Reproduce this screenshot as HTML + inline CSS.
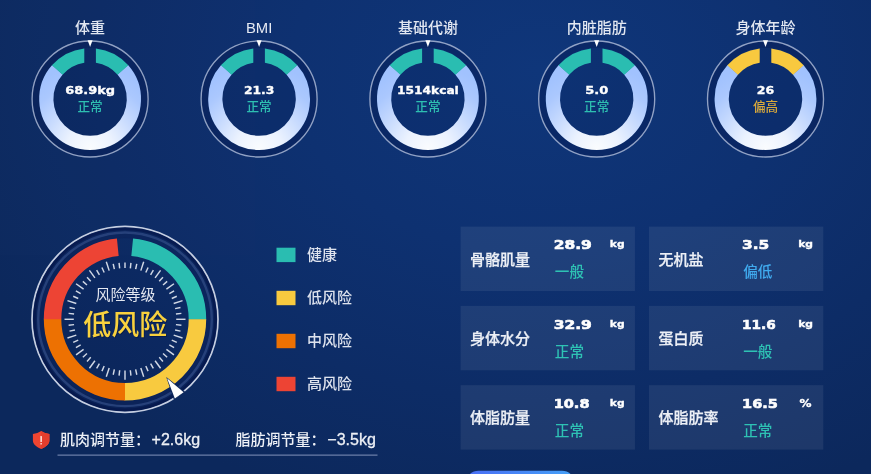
<!DOCTYPE html>
<html lang="zh-CN"><head><meta charset="utf-8"><title>身体成分报告</title>
<style>
html,body{margin:0;padding:0;background:#0f2c64;}
body{width:871px;height:474px;overflow:hidden;}
svg{display:block;will-change:transform;opacity:0.999;}
.c{font-family:"Liberation Sans","Noto Sans CJK SC",sans-serif;}
.n{font-family:"DejaVu Sans","Liberation Sans",sans-serif;font-weight:bold;}
</style></head><body>
<svg width="871" height="474" viewBox="0 0 871 474">
<defs>
<radialGradient id="bg" gradientUnits="userSpaceOnUse" cx="540" cy="70" r="620" gradientTransform="translate(540 70) scale(1 0.74) translate(-540 -70)">
<stop offset="0" stop-color="#10377b"/><stop offset="0.4" stop-color="#0f3272"/><stop offset="0.72" stop-color="#0e2d67"/><stop offset="1" stop-color="#0d295d"/>
</radialGradient>
<radialGradient id="rg" gradientUnits="userSpaceOnUse" cx="0" cy="50" r="84">
<stop offset="0" stop-color="#fbfdff"/><stop offset="0.28" stop-color="#ecf3ff"/><stop offset="0.55" stop-color="#c9dcff"/><stop offset="0.8" stop-color="#acc9ff"/><stop offset="1" stop-color="#a2c3ff"/>
</radialGradient>
<linearGradient id="btn" x1="0" y1="0" x2="1" y2="0"><stop offset="0" stop-color="#4a6ef6"/><stop offset="1" stop-color="#46a2f8"/></linearGradient>
</defs>
<rect width="871" height="474" fill="url(#bg)"/>

<g transform="translate(90.1 99)">
<circle r="54.6" fill="none" stroke="#05174f" stroke-opacity="0.3" stroke-width="6.8"/><circle r="58" fill="#081f5a" fill-opacity="0.16" stroke="#b4c0dc" stroke-opacity="0.8" stroke-width="1.35"/>
<path d="M32.65 -29.19A43.8 43.8 0 1 1 -32.65 -29.19" fill="none" stroke="url(#rg)" stroke-width="14.20"/>
<path d="M5.8 -50.57A50.9 50.9 0 0 1 38.18 -33.66L27.53 -24.27A36.7 36.7 0 0 0 5.8 -36.24Z" fill="#2bbeb2"/>
<path d="M-5.8 -50.57A50.9 50.9 0 0 0 -38.18 -33.66L-27.53 -24.27A36.7 36.7 0 0 1 -5.8 -36.24Z" fill="#2bbeb2"/>
<path d="M-2.5 -58.7L2.5 -58.7L0 -52.1Z" fill="#fff"/>
<text class="c" x="0" y="-65.9" font-size="15" font-weight="500" fill="#e3e8f2" text-anchor="middle">体重</text>
<text class="n" x="0" y="-5.5" font-size="10.9" fill="#fff" stroke="#fff" stroke-width="0.35" text-anchor="middle" textLength="49.8" lengthAdjust="spacingAndGlyphs">68.9kg</text>
<text class="c" x="0" y="12.3" font-size="12.6" font-weight="500" fill="#2fc0b2" text-anchor="middle">正常</text>
</g>
<g transform="translate(259.1 99)">
<circle r="54.6" fill="none" stroke="#05174f" stroke-opacity="0.3" stroke-width="6.8"/><circle r="58" fill="#081f5a" fill-opacity="0.16" stroke="#b4c0dc" stroke-opacity="0.8" stroke-width="1.35"/>
<path d="M32.65 -29.19A43.8 43.8 0 1 1 -32.65 -29.19" fill="none" stroke="url(#rg)" stroke-width="14.20"/>
<path d="M5.8 -50.57A50.9 50.9 0 0 1 38.18 -33.66L27.53 -24.27A36.7 36.7 0 0 0 5.8 -36.24Z" fill="#2bbeb2"/>
<path d="M-5.8 -50.57A50.9 50.9 0 0 0 -38.18 -33.66L-27.53 -24.27A36.7 36.7 0 0 1 -5.8 -36.24Z" fill="#2bbeb2"/>
<path d="M-2.5 -58.7L2.5 -58.7L0 -52.1Z" fill="#fff"/>
<text class="c" x="0" y="-65.9" font-size="15.4" fill="#e6eaf3" text-anchor="middle" textLength="26.4" lengthAdjust="spacingAndGlyphs">BMI</text>
<text class="n" x="0" y="-5.5" font-size="10.9" fill="#fff" stroke="#fff" stroke-width="0.35" text-anchor="middle" textLength="30.4" lengthAdjust="spacingAndGlyphs">21.3</text>
<text class="c" x="0" y="12.3" font-size="12.6" font-weight="500" fill="#2fc0b2" text-anchor="middle">正常</text>
</g>
<g transform="translate(427.9 99)">
<circle r="54.6" fill="none" stroke="#05174f" stroke-opacity="0.3" stroke-width="6.8"/><circle r="58" fill="#081f5a" fill-opacity="0.16" stroke="#b4c0dc" stroke-opacity="0.8" stroke-width="1.35"/>
<path d="M32.65 -29.19A43.8 43.8 0 1 1 -32.65 -29.19" fill="none" stroke="url(#rg)" stroke-width="14.20"/>
<path d="M5.8 -50.57A50.9 50.9 0 0 1 38.18 -33.66L27.53 -24.27A36.7 36.7 0 0 0 5.8 -36.24Z" fill="#2bbeb2"/>
<path d="M-5.8 -50.57A50.9 50.9 0 0 0 -38.18 -33.66L-27.53 -24.27A36.7 36.7 0 0 1 -5.8 -36.24Z" fill="#2bbeb2"/>
<path d="M-2.5 -58.7L2.5 -58.7L0 -52.1Z" fill="#fff"/>
<text class="c" x="0" y="-65.9" font-size="15" font-weight="500" fill="#e3e8f2" text-anchor="middle">基础代谢</text>
<text class="n" x="0" y="-5.5" font-size="10.9" fill="#fff" stroke="#fff" stroke-width="0.35" text-anchor="middle" textLength="61.8" lengthAdjust="spacingAndGlyphs">1514kcal</text>
<text class="c" x="0" y="12.3" font-size="12.6" font-weight="500" fill="#2fc0b2" text-anchor="middle">正常</text>
</g>
<g transform="translate(596.7 99)">
<circle r="54.6" fill="none" stroke="#05174f" stroke-opacity="0.3" stroke-width="6.8"/><circle r="58" fill="#081f5a" fill-opacity="0.16" stroke="#b4c0dc" stroke-opacity="0.8" stroke-width="1.35"/>
<path d="M32.65 -29.19A43.8 43.8 0 1 1 -32.65 -29.19" fill="none" stroke="url(#rg)" stroke-width="14.20"/>
<path d="M5.8 -50.57A50.9 50.9 0 0 1 38.18 -33.66L27.53 -24.27A36.7 36.7 0 0 0 5.8 -36.24Z" fill="#2bbeb2"/>
<path d="M-5.8 -50.57A50.9 50.9 0 0 0 -38.18 -33.66L-27.53 -24.27A36.7 36.7 0 0 1 -5.8 -36.24Z" fill="#2bbeb2"/>
<path d="M-2.5 -58.7L2.5 -58.7L0 -52.1Z" fill="#fff"/>
<text class="c" x="0" y="-65.9" font-size="15" font-weight="500" fill="#e3e8f2" text-anchor="middle">内脏脂肪</text>
<text class="n" x="0" y="-5.5" font-size="10.9" fill="#fff" stroke="#fff" stroke-width="0.35" text-anchor="middle" textLength="23" lengthAdjust="spacingAndGlyphs">5.0</text>
<text class="c" x="0" y="12.3" font-size="12.6" font-weight="500" fill="#2fc0b2" text-anchor="middle">正常</text>
</g>
<g transform="translate(765.5 99)">
<circle r="54.6" fill="none" stroke="#05174f" stroke-opacity="0.3" stroke-width="6.8"/><circle r="58" fill="#081f5a" fill-opacity="0.16" stroke="#b4c0dc" stroke-opacity="0.8" stroke-width="1.35"/>
<path d="M32.65 -29.19A43.8 43.8 0 1 1 -32.65 -29.19" fill="none" stroke="url(#rg)" stroke-width="14.20"/>
<path d="M5.8 -50.57A50.9 50.9 0 0 1 38.18 -33.66L27.53 -24.27A36.7 36.7 0 0 0 5.8 -36.24Z" fill="#f9ca40"/>
<path d="M-5.8 -50.57A50.9 50.9 0 0 0 -38.18 -33.66L-27.53 -24.27A36.7 36.7 0 0 1 -5.8 -36.24Z" fill="#f9ca40"/>
<path d="M-2.5 -58.7L2.5 -58.7L0 -52.1Z" fill="#fff"/>
<text class="c" x="0" y="-65.9" font-size="15" font-weight="500" fill="#e3e8f2" text-anchor="middle">身体年龄</text>
<text class="n" x="0" y="-5.5" font-size="10.9" fill="#fff" stroke="#fff" stroke-width="0.35" text-anchor="middle" textLength="17.4" lengthAdjust="spacingAndGlyphs">26</text>
<text class="c" x="0" y="12.3" font-size="12.6" font-weight="500" fill="#dcab3c" text-anchor="middle">偏高</text>
</g>
<g>
<circle cx="125" cy="319.3" r="82" fill="#0b2258" fill-opacity="0.12"/>
<circle cx="125" cy="319.3" r="87" fill="none" stroke="#0b2258" stroke-opacity="0.6" stroke-width="12"/>
<circle cx="125" cy="319.3" r="93" fill="none" stroke="#c6cfe2" stroke-width="1.7"/>
<circle cx="125" cy="319.3" r="90.6" fill="none" stroke="#041247" stroke-opacity="0.55" stroke-width="2.6"/>
<circle cx="125" cy="319.3" r="86.8" fill="none" stroke="#3a5590" stroke-opacity="0.6" stroke-width="2.4"/>
<path d="M132.20 247.21A72.45 72.45 0 0 1 197.45 319.81" fill="none" stroke="#2bbeb2" stroke-width="17.5"/>
<path d="M197.45 319.30A72.45 72.45 0 0 1 124.49 391.75" fill="none" stroke="#f9cb40" stroke-width="17.5"/>
<path d="M125.00 391.75A72.45 72.45 0 0 1 52.55 318.79" fill="none" stroke="#ee7203" stroke-width="17.5"/>
<path d="M52.55 319.30A72.45 72.45 0 0 1 117.80 247.21" fill="none" stroke="#ee4535" stroke-width="17.5"/>
<line x1="125.00" y1="268.10" x2="125.00" y2="262.60" stroke="#d2d9e6" stroke-width="1.45"/>
<line x1="130.35" y1="268.38" x2="130.93" y2="262.91" stroke="#d2d9e6" stroke-width="1.45"/>
<line x1="135.65" y1="269.22" x2="136.79" y2="263.84" stroke="#d2d9e6" stroke-width="1.45"/>
<line x1="140.82" y1="270.61" x2="143.70" y2="261.76" stroke="#d2d9e6" stroke-width="1.45"/>
<line x1="145.82" y1="272.53" x2="148.06" y2="267.50" stroke="#d2d9e6" stroke-width="1.45"/>
<line x1="150.60" y1="274.96" x2="153.35" y2="270.20" stroke="#d2d9e6" stroke-width="1.45"/>
<line x1="155.09" y1="277.88" x2="160.56" y2="270.35" stroke="#d2d9e6" stroke-width="1.45"/>
<line x1="159.26" y1="281.25" x2="162.94" y2="277.16" stroke="#d2d9e6" stroke-width="1.45"/>
<line x1="163.05" y1="285.04" x2="167.14" y2="281.36" stroke="#d2d9e6" stroke-width="1.45"/>
<line x1="166.42" y1="289.21" x2="173.95" y2="283.74" stroke="#d2d9e6" stroke-width="1.45"/>
<line x1="169.34" y1="293.70" x2="174.10" y2="290.95" stroke="#d2d9e6" stroke-width="1.45"/>
<line x1="171.77" y1="298.48" x2="176.80" y2="296.24" stroke="#d2d9e6" stroke-width="1.45"/>
<line x1="173.69" y1="303.48" x2="182.54" y2="300.60" stroke="#d2d9e6" stroke-width="1.45"/>
<line x1="175.08" y1="308.65" x2="180.46" y2="307.51" stroke="#d2d9e6" stroke-width="1.45"/>
<line x1="175.92" y1="313.95" x2="181.39" y2="313.37" stroke="#d2d9e6" stroke-width="1.45"/>
<line x1="176.20" y1="319.30" x2="185.50" y2="319.30" stroke="#d2d9e6" stroke-width="1.45"/>
<line x1="175.92" y1="324.65" x2="181.39" y2="325.23" stroke="#d2d9e6" stroke-width="1.45"/>
<line x1="175.08" y1="329.95" x2="180.46" y2="331.09" stroke="#d2d9e6" stroke-width="1.45"/>
<line x1="173.69" y1="335.12" x2="182.54" y2="338.00" stroke="#d2d9e6" stroke-width="1.45"/>
<line x1="171.77" y1="340.12" x2="176.80" y2="342.36" stroke="#d2d9e6" stroke-width="1.45"/>
<line x1="169.34" y1="344.90" x2="174.10" y2="347.65" stroke="#d2d9e6" stroke-width="1.45"/>
<line x1="166.42" y1="349.39" x2="173.95" y2="354.86" stroke="#d2d9e6" stroke-width="1.45"/>
<line x1="163.05" y1="353.56" x2="167.14" y2="357.24" stroke="#d2d9e6" stroke-width="1.45"/>
<line x1="159.26" y1="357.35" x2="162.94" y2="361.44" stroke="#d2d9e6" stroke-width="1.45"/>
<line x1="155.09" y1="360.72" x2="160.56" y2="368.25" stroke="#d2d9e6" stroke-width="1.45"/>
<line x1="150.60" y1="363.64" x2="153.35" y2="368.40" stroke="#d2d9e6" stroke-width="1.45"/>
<line x1="145.82" y1="366.07" x2="148.06" y2="371.10" stroke="#d2d9e6" stroke-width="1.45"/>
<line x1="140.82" y1="367.99" x2="143.70" y2="376.84" stroke="#d2d9e6" stroke-width="1.45"/>
<line x1="135.65" y1="369.38" x2="136.79" y2="374.76" stroke="#d2d9e6" stroke-width="1.45"/>
<line x1="130.35" y1="370.22" x2="130.93" y2="375.69" stroke="#d2d9e6" stroke-width="1.45"/>
<line x1="125.00" y1="370.50" x2="125.00" y2="379.80" stroke="#d2d9e6" stroke-width="1.45"/>
<line x1="119.65" y1="370.22" x2="119.07" y2="375.69" stroke="#d2d9e6" stroke-width="1.45"/>
<line x1="114.35" y1="369.38" x2="113.21" y2="374.76" stroke="#d2d9e6" stroke-width="1.45"/>
<line x1="109.18" y1="367.99" x2="106.30" y2="376.84" stroke="#d2d9e6" stroke-width="1.45"/>
<line x1="104.18" y1="366.07" x2="101.94" y2="371.10" stroke="#d2d9e6" stroke-width="1.45"/>
<line x1="99.40" y1="363.64" x2="96.65" y2="368.40" stroke="#d2d9e6" stroke-width="1.45"/>
<line x1="94.91" y1="360.72" x2="89.44" y2="368.25" stroke="#d2d9e6" stroke-width="1.45"/>
<line x1="90.74" y1="357.35" x2="87.06" y2="361.44" stroke="#d2d9e6" stroke-width="1.45"/>
<line x1="86.95" y1="353.56" x2="82.86" y2="357.24" stroke="#d2d9e6" stroke-width="1.45"/>
<line x1="83.58" y1="349.39" x2="76.05" y2="354.86" stroke="#d2d9e6" stroke-width="1.45"/>
<line x1="80.66" y1="344.90" x2="75.90" y2="347.65" stroke="#d2d9e6" stroke-width="1.45"/>
<line x1="78.23" y1="340.12" x2="73.20" y2="342.36" stroke="#d2d9e6" stroke-width="1.45"/>
<line x1="76.31" y1="335.12" x2="67.46" y2="338.00" stroke="#d2d9e6" stroke-width="1.45"/>
<line x1="74.92" y1="329.95" x2="69.54" y2="331.09" stroke="#d2d9e6" stroke-width="1.45"/>
<line x1="74.08" y1="324.65" x2="68.61" y2="325.23" stroke="#d2d9e6" stroke-width="1.45"/>
<line x1="73.80" y1="319.30" x2="64.50" y2="319.30" stroke="#d2d9e6" stroke-width="1.45"/>
<line x1="74.08" y1="313.95" x2="68.61" y2="313.37" stroke="#d2d9e6" stroke-width="1.45"/>
<line x1="74.92" y1="308.65" x2="69.54" y2="307.51" stroke="#d2d9e6" stroke-width="1.45"/>
<line x1="76.31" y1="303.48" x2="67.46" y2="300.60" stroke="#d2d9e6" stroke-width="1.45"/>
<line x1="78.23" y1="298.48" x2="73.20" y2="296.24" stroke="#d2d9e6" stroke-width="1.45"/>
<line x1="80.66" y1="293.70" x2="75.90" y2="290.95" stroke="#d2d9e6" stroke-width="1.45"/>
<line x1="83.58" y1="289.21" x2="76.05" y2="283.74" stroke="#d2d9e6" stroke-width="1.45"/>
<line x1="86.95" y1="285.04" x2="82.86" y2="281.36" stroke="#d2d9e6" stroke-width="1.45"/>
<line x1="90.74" y1="281.25" x2="87.06" y2="277.16" stroke="#d2d9e6" stroke-width="1.45"/>
<line x1="94.91" y1="277.88" x2="89.44" y2="270.35" stroke="#d2d9e6" stroke-width="1.45"/>
<line x1="99.40" y1="274.96" x2="96.65" y2="270.20" stroke="#d2d9e6" stroke-width="1.45"/>
<line x1="104.18" y1="272.53" x2="101.94" y2="267.50" stroke="#d2d9e6" stroke-width="1.45"/>
<line x1="109.18" y1="270.61" x2="106.30" y2="261.76" stroke="#d2d9e6" stroke-width="1.45"/>
<line x1="114.35" y1="269.22" x2="113.21" y2="263.84" stroke="#d2d9e6" stroke-width="1.45"/>
<line x1="119.65" y1="268.38" x2="119.07" y2="262.91" stroke="#d2d9e6" stroke-width="1.45"/>
<g transform="translate(125 319.3) rotate(144.5)"><path d="M0 -71L7 -94.2L-7 -94.2Z" fill="#0d2659"/><path d="M0 -72.5L5.4 -93.4L-5.4 -93.4Z" fill="#fff"/></g>
<text class="c" x="125.5" y="300" font-size="15" fill="#e4e8f1" text-anchor="middle">风险等级</text>
<text class="c" x="126.1" y="336.4" font-size="28" font-weight="500" fill="#06153f" fill-opacity="0.6" text-anchor="middle">低风险</text>
<text class="c" x="125.3" y="335.4" font-size="28" font-weight="500" fill="#f9d23f" text-anchor="middle" style="paint-order:stroke" >低风险</text>
</g>
<rect x="276.5" y="247.7" width="19" height="14.4" fill="#2bbeb2"/>
<text class="c" x="307" y="260.3" font-size="15" font-weight="500" fill="#dfe4ef">健康</text>
<rect x="276.5" y="290.8" width="19" height="14.4" fill="#f9cb40"/>
<text class="c" x="307" y="303.4" font-size="15" font-weight="500" fill="#dfe4ef">低风险</text>
<rect x="276.5" y="333.8" width="19" height="14.4" fill="#ee7203"/>
<text class="c" x="307" y="346.4" font-size="15" font-weight="500" fill="#dfe4ef">中风险</text>
<rect x="276.5" y="376.8" width="19" height="14.4" fill="#ee4535"/>
<text class="c" x="307" y="389.4" font-size="15" font-weight="500" fill="#dfe4ef">高风险</text>
<g transform="translate(32.9 431)"><path d="M8.25 0C6 1.6 3 2.6 0 2.9V9.6C0 13.6 4 16.4 8.25 18C12.5 16.4 16.5 13.6 16.5 9.6V2.9C13.5 2.6 10.5 1.6 8.25 0Z" fill="#f04632"/><path d="M8.25 0C10.5 1.6 13.5 2.6 16.5 2.9V9.6C16.5 13.6 12.5 16.4 8.25 18Z" fill="#e63f2e"/><rect x="7.5" y="4.9" width="1.5" height="6.2" rx="0.5" fill="#ffe9e4"/><rect x="7.5" y="12" width="1.5" height="1.6" rx="0.5" fill="#ffe9e4"/></g>
<text class="c" x="60" y="445.3" font-size="15" font-weight="500" fill="#eef1f7">肌肉调节量：</text>
<text class="c" x="151.6" y="445.3" font-size="16" fill="#eef1f7" stroke="#eef1f7" stroke-width="0.3">+2.6kg</text>
<text class="c" x="235.5" y="445.3" font-size="15" font-weight="500" fill="#eef1f7">脂肪调节量：</text>
<text class="c" x="327.3" y="445.3" font-size="16" fill="#eef1f7" stroke="#eef1f7" stroke-width="0.3">−3.5kg</text>
<rect x="57.5" y="454.6" width="320" height="1" fill="#8394bb"/>
<rect x="460.6" y="226.6" width="174.3" height="64.4" fill="#ffffff" fill-opacity="0.075"/>
<text class="c" x="470.0" y="264.5" font-size="15" font-weight="500" fill="#eef1f7" stroke="#eef1f7" stroke-width="0.25">骨骼肌量</text>
<text class="n" x="553.7" y="249.2" font-size="12.3" fill="#fff" stroke="#fff" stroke-width="0.6" textLength="38.2" lengthAdjust="spacingAndGlyphs">28.9</text>
<text class="n" x="609.8" y="247.4" font-size="9.5" fill="#fff" stroke="#fff" stroke-width="0.35" textLength="14.8" lengthAdjust="spacingAndGlyphs">kg</text>
<text class="c" x="554.8" y="277.4" font-size="14.6" font-weight="500" fill="#2fc3b5">一般</text>
<rect x="649.0" y="226.6" width="174.3" height="64.4" fill="#ffffff" fill-opacity="0.075"/>
<text class="c" x="658.4" y="264.5" font-size="15" font-weight="500" fill="#eef1f7" stroke="#eef1f7" stroke-width="0.25">无机盐</text>
<text class="n" x="742.1" y="249.2" font-size="12.3" fill="#fff" stroke="#fff" stroke-width="0.6" textLength="27.2" lengthAdjust="spacingAndGlyphs">3.5</text>
<text class="n" x="798.2" y="247.4" font-size="9.5" fill="#fff" stroke="#fff" stroke-width="0.35" textLength="14.8" lengthAdjust="spacingAndGlyphs">kg</text>
<text class="c" x="743.2" y="277.4" font-size="14.6" font-weight="500" fill="#41acf0">偏低</text>
<rect x="460.6" y="305.9" width="174.3" height="64.4" fill="#ffffff" fill-opacity="0.075"/>
<text class="c" x="470.0" y="343.8" font-size="15" font-weight="500" fill="#eef1f7" stroke="#eef1f7" stroke-width="0.25">身体水分</text>
<text class="n" x="553.7" y="328.5" font-size="12.3" fill="#fff" stroke="#fff" stroke-width="0.6" textLength="38.2" lengthAdjust="spacingAndGlyphs">32.9</text>
<text class="n" x="609.8" y="326.7" font-size="9.5" fill="#fff" stroke="#fff" stroke-width="0.35" textLength="14.8" lengthAdjust="spacingAndGlyphs">kg</text>
<text class="c" x="554.8" y="356.7" font-size="14.6" font-weight="500" fill="#2fc3b5">正常</text>
<rect x="649.0" y="305.9" width="174.3" height="64.4" fill="#ffffff" fill-opacity="0.075"/>
<text class="c" x="658.4" y="343.8" font-size="15" font-weight="500" fill="#eef1f7" stroke="#eef1f7" stroke-width="0.25">蛋白质</text>
<text class="n" x="742.1" y="328.5" font-size="12.3" fill="#fff" stroke="#fff" stroke-width="0.6" textLength="33.6" lengthAdjust="spacingAndGlyphs">11.6</text>
<text class="n" x="798.2" y="326.7" font-size="9.5" fill="#fff" stroke="#fff" stroke-width="0.35" textLength="14.8" lengthAdjust="spacingAndGlyphs">kg</text>
<text class="c" x="743.2" y="356.7" font-size="14.6" font-weight="500" fill="#2fc3b5">一般</text>
<rect x="460.6" y="385.2" width="174.3" height="64.4" fill="#ffffff" fill-opacity="0.075"/>
<text class="c" x="470.0" y="423.1" font-size="15" font-weight="500" fill="#eef1f7" stroke="#eef1f7" stroke-width="0.25">体脂肪量</text>
<text class="n" x="553.7" y="407.8" font-size="12.3" fill="#fff" stroke="#fff" stroke-width="0.6" textLength="35.8" lengthAdjust="spacingAndGlyphs">10.8</text>
<text class="n" x="609.8" y="406.0" font-size="9.5" fill="#fff" stroke="#fff" stroke-width="0.35" textLength="14.8" lengthAdjust="spacingAndGlyphs">kg</text>
<text class="c" x="554.8" y="436.0" font-size="14.6" font-weight="500" fill="#2fc3b5">正常</text>
<rect x="649.0" y="385.2" width="174.3" height="64.4" fill="#ffffff" fill-opacity="0.075"/>
<text class="c" x="658.4" y="423.1" font-size="15" font-weight="500" fill="#eef1f7" stroke="#eef1f7" stroke-width="0.25">体脂肪率</text>
<text class="n" x="742.1" y="407.8" font-size="12.3" fill="#fff" stroke="#fff" stroke-width="0.6" textLength="35.8" lengthAdjust="spacingAndGlyphs">16.5</text>
<text class="n" x="799.6" y="406.9" font-size="10.6" fill="#fff" stroke="#fff" stroke-width="0.35" textLength="12" lengthAdjust="spacingAndGlyphs">%</text>
<text class="c" x="743.2" y="436.0" font-size="14.6" font-weight="500" fill="#2fc3b5">正常</text>
<rect x="465.5" y="470.8" width="109.5" height="40" rx="13" fill="url(#btn)"/>
</svg></body></html>
